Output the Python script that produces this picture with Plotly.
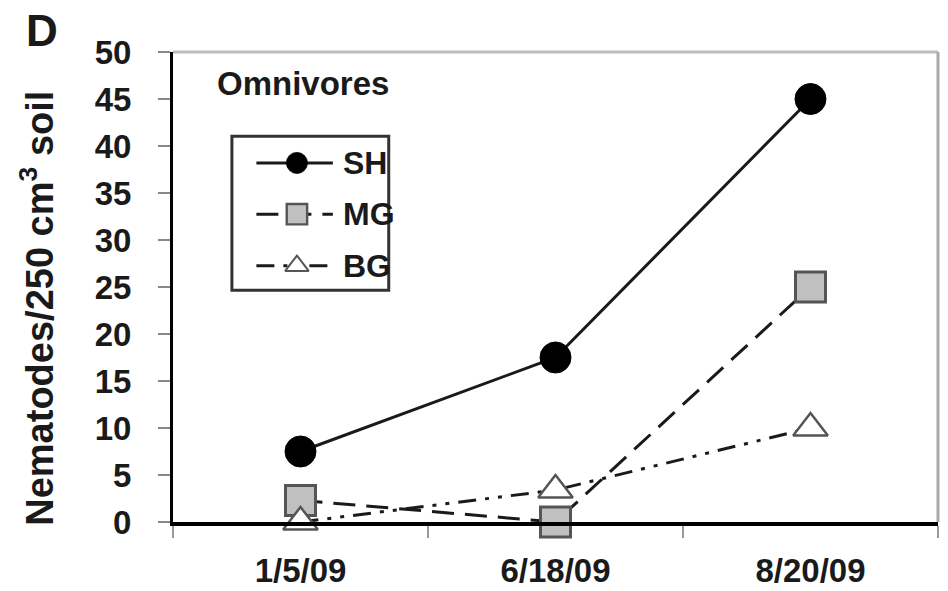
import plotly.graph_objects as go

# Sampling dates and omnivore counts per treatment
dates = ["1/5/09", "6/18/09", "8/20/09"]
sh_counts = [7.5, 17.5, 45.0]
mg_counts = [2.3, 0.0, 25.0]
bg_counts = [0.0, 3.4, 10.0]
series_names = ["SH", "MG", "BG"]
y_ticks = [0, 5, 10, 15, 20, 25, 30, 35, 40, 45, 50]

FONT = "Liberation Sans, Arial, sans-serif"
INK = "#1a1a1a"
EDGE = "#555555"

styles = {
    "SH": dict(dash="solid", symbol="circle", fill="#000000", edge="#000000", ew=1, size=31),
    "MG": dict(dash="22px,11px", symbol="square", fill="#c0c0c0", edge=EDGE, ew=3, size=30),
    "BG": dict(dash="18px,9px,4px,9px,4px,9px", symbol="triangle-up", fill="#ffffff", edge=EDGE, ew=2.5, size=30),
}

fig = go.Figure()
for name, vals in zip(series_names, [sh_counts, mg_counts, bg_counts]):
    s = styles[name]
    fig.add_trace(go.Scatter(
        x=dates, y=vals, name=name, mode="lines+markers",
        line=dict(color=INK, width=3, dash=s["dash"]),
        marker=dict(symbol=s["symbol"], size=s["size"], color=s["fill"],
                    line=dict(color=s["edge"], width=s["ew"])),
        showlegend=False, cliponaxis=False,
    ))

# Hand-drawn legend on an overlay axis spanning the plot area (0..1 both ways)
legend_rows = {"SH": 0.764, "MG": 0.655, "BG": 0.545}
lx0, lx1, lxm = 0.109, 0.209, 0.162
annotations = []
for name in series_names:
    s = styles[name]
    yy = legend_rows[name]
    fig.add_trace(go.Scatter(
        x=[lx0, lx1], y=[yy, yy], mode="lines",
        xaxis="x2", yaxis="y2",
        line=dict(color=INK, width=3, dash=s["dash"]),
        showlegend=False, hoverinfo="skip",
    ))
    fig.add_trace(go.Scatter(
        x=[lxm], y=[yy], mode="markers",
        xaxis="x2", yaxis="y2",
        marker=dict(symbol=s["symbol"], size=s["size"] * 0.68, color=s["fill"],
                    line=dict(color=s["edge"], width=s["ew"] * 0.8)),
        showlegend=False, hoverinfo="skip",
    ))
    annotations.append(dict(x=0.219, y=yy, xref="paper", yref="paper", text=name,
                            showarrow=False, xanchor="left", yanchor="middle",
                            font=dict(family=FONT, size=32, color=INK, weight="bold")))

annotations += [
    dict(x=-0.171, y=1.045, xref="paper", yref="paper", text="D", showarrow=False,
         xanchor="center", yanchor="middle",
         font=dict(family=FONT, size=44, color=INK, weight="bold")),
    dict(x=0.055, y=0.932, xref="paper", yref="paper", text="Omnivores", showarrow=False,
         xanchor="left", yanchor="middle",
         font=dict(family=FONT, size=33, color=INK, weight="bold")),
    dict(x=-0.177, y=0.455, xref="paper", yref="paper", textangle=-90,
         text="Nematodes/250 cm<sup>3</sup> soil", showarrow=False,
         xanchor="center", yanchor="middle",
         font=dict(family=FONT, size=38, color=INK, weight="bold")),
]

fig.update_layout(
    width=948, height=591,
    margin=dict(l=173, r=10, t=52, b=69, autoexpand=False),
    paper_bgcolor="white", plot_bgcolor="white",
    xaxis=dict(
        type="category", categoryorder="array", categoryarray=dates,
        range=[-0.5, 2.5], tickson="boundaries", automargin=False,
        ticks="outside", ticklen=12, tickwidth=2, tickcolor="#999999",
        showline=True, linecolor="#000000", linewidth=4,
        showgrid=False, zeroline=False, ticklabelstandoff=16,
        tickfont=dict(family=FONT, size=33, color=INK, weight="bold"),
    ),
    yaxis=dict(
        range=[0, 50], tickvals=y_ticks, automargin=False,
        ticks="outside", ticklen=12, tickwidth=2, tickcolor="#888888",
        showline=True, linecolor="#000000", linewidth=3,
        showgrid=False, zeroline=False, ticklabelstandoff=20,
        tickfont=dict(family=FONT, size=33, color=INK, weight="bold"),
    ),
    xaxis2=dict(overlaying="x", range=[0, 1], visible=False, fixedrange=True),
    yaxis2=dict(overlaying="y", range=[0, 1], visible=False, fixedrange=True),
    shapes=[
        # light frame on top and right
        dict(type="line", xref="paper", yref="paper", x0=0, x1=1, y0=1, y1=1,
             line=dict(color="#bbbbbb", width=3)),
        dict(type="line", xref="paper", yref="paper", x0=1, x1=1, y0=0, y1=1,
             line=dict(color="#aaaaaa", width=3)),
        # legend box
        dict(type="rect", xref="paper", yref="paper", x0=0.077, x1=0.282, y0=0.493, y1=0.821,
             line=dict(color="#333333", width=3), fillcolor="rgba(0,0,0,0)"),
    ],
    annotations=annotations,
)

fig.write_html("out.html")
